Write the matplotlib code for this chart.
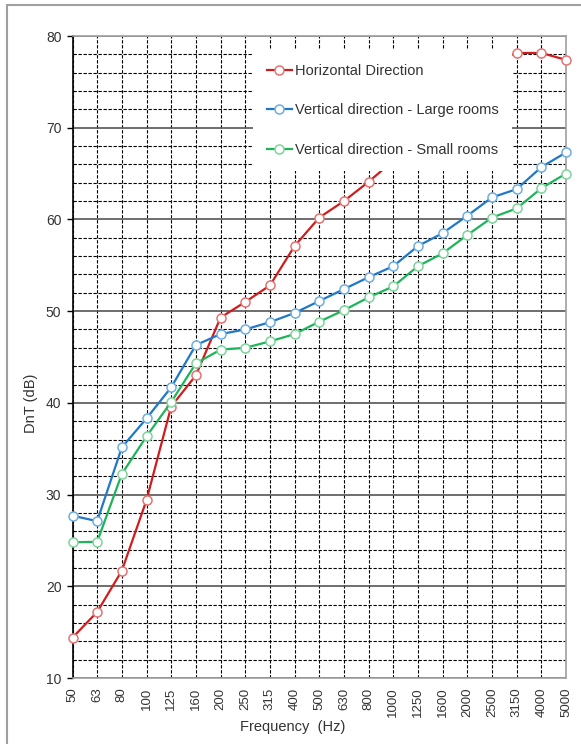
import matplotlib
matplotlib.use("Agg")
import matplotlib.pyplot as plt
from matplotlib.patches import Rectangle

plt.rcParams['font.family'] = ['Liberation Sans', 'DejaVu Sans']

freqs = ["50", "63", "80", "100", "125", "160", "200", "250", "315", "400", "500",
         "630", "800", "1000", "1250", "1600", "2000", "2500", "3150", "4000", "5000"]

horizontal = [14.4, 17.2, 21.7, 29.4, 39.6, 43.0, 49.3, 51.0, 52.8, 57.1, 60.2,
              62.0, 64.1, 66.4, 69.5, 72.5, 75.3, 77.2, 78.15, 78.15, 77.4]
vertical_large = [27.7, 27.1, 35.15, 38.3, 41.7, 46.3, 47.5, 48.0, 48.8, 49.8, 51.1,
                  52.4, 53.7, 54.9, 57.1, 58.5, 60.4, 62.4, 63.3, 65.7, 67.3]
vertical_small = [24.8, 24.85, 32.25, 36.35, 40.1, 44.3, 45.8, 46.0, 46.7, 47.5, 48.85,
                  50.1, 51.5, 52.7, 54.9, 56.3, 58.3, 60.2, 61.2, 63.4, 65.0]

series = [
    ("Horizontal Direction", horizontal, "#D01C1C", "#E57373"),
    ("Vertical direction - Large rooms", vertical_large, "#1F78C8", "#6FAEE0"),
    ("Vertical direction - Small rooms", vertical_small, "#1DB45A", "#7FD49C"),
]

W, H = 581, 744
fig = plt.figure(figsize=(W / 100, H / 100), dpi=100)
ax = fig.add_axes([72.5 / W, 1 - 678 / H, (566 - 72.5) / W, (678 - 36) / H])

x = list(range(len(freqs)))
for label, vals, col, mcol in series:
    ax.plot(x, vals, color=col, lw=1.6, marker='o', ms=6.5, mfc='white',
            mec=mcol, mew=1.1, label=label, clip_on=False, zorder=3)

ax.set_xlim(0, len(freqs) - 1)
ax.set_ylim(10, 80)
ax.set_xticks(x)
ax.set_xticklabels(freqs, rotation=90, fontsize=9.5, color='#333333')
ax.set_yticks(range(10, 81, 10))
ax.set_yticks(range(10, 81, 2), minor=True)
ax.tick_params(axis='y', which='major', length=4, width=1, color='black', pad=4,
               labelsize=10, labelcolor='#333333')
ax.tick_params(axis='y', which='minor', length=0)
ax.tick_params(axis='x', length=0, pad=7)

ax.grid(axis='y', which='major', color='#555555', lw=1.2, ls='-')
ax.grid(axis='y', which='minor', color='black', lw=0.8, ls=(0, (3, 1.5)))
ax.grid(axis='x', which='major', color='black', lw=0.8, ls=(0, (3, 1.5)))
ax.set_axisbelow(True)

ax.spines['left'].set_color('black')
ax.spines['left'].set_linewidth(1.2)
for s in ['bottom', 'right', 'top']:
    ax.spines[s].set_color('#A0A0A0')
    ax.spines[s].set_linewidth(1.2)

ax.set_ylabel("DnT (dB)", fontsize=10.5, color='#333333')
ax.yaxis.set_label_coords(-0.070, 0.428)
ax.set_xlabel("Frequency  (Hz)", fontsize=10.5, color='#333333')
ax.xaxis.set_label_coords(0.447, -0.066)

leg = ax.legend(loc='upper left', bbox_to_anchor=(253 / W, 1 - 50 / H),
                bbox_transform=fig.transFigure, fontsize=10.5, frameon=True,
                fancybox=False, framealpha=1, edgecolor='none', borderpad=0.95,
                borderaxespad=0, labelspacing=1.75, handlelength=1.7,
                handletextpad=0.2)
for t in leg.get_texts():
    t.set_color('#333333')

# outer chart frame (partly cropped)
fig.add_artist(Rectangle((7 / W, -0.1), 1.2, 1 - 5 / H + 0.1, transform=fig.transFigure,
                         fill=False, edgecolor='#A0A0A0', lw=1.5))

fig.savefig("out.png", dpi=100)
